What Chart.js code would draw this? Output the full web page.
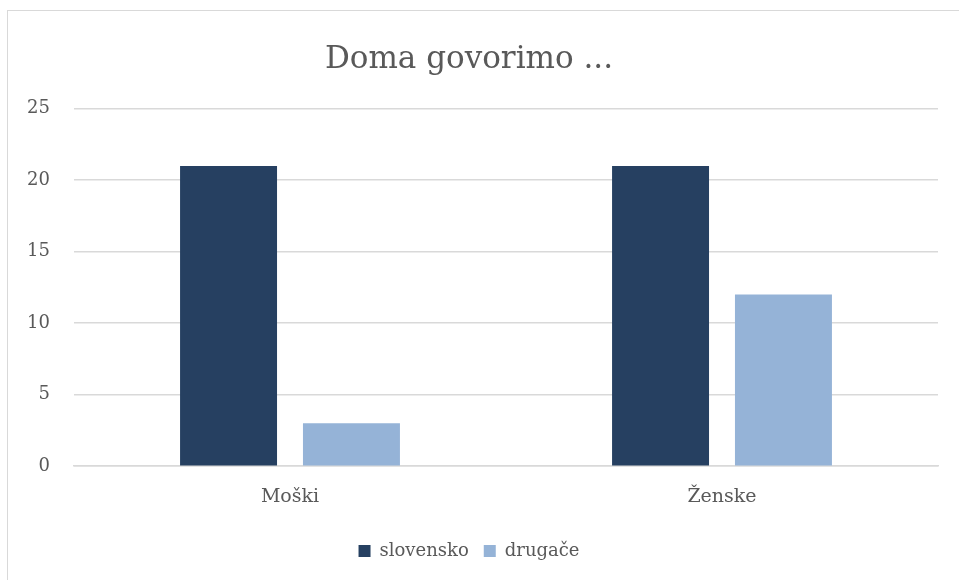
<!DOCTYPE html>
<html>
<head>
<meta charset="utf-8">
<script src="https://cdn.jsdelivr.net/npm/chart.js@4"></script>
<style>
    html, body { margin: 0; padding: 0; background: #fff; }
    #wrap { position: relative; width: 959px; height: 580px; overflow: hidden; }
    #frame {
        position: absolute; left: 7px; top: 10px;
        width: 1000px; height: 700px;
        border: 1px solid #d9d9d9;
    }
    #chartDoma { position: absolute; left: 0; top: 0; }
</style>
</head>
<body>
<div id="wrap">
    <div id="frame"></div>
    <canvas id="chartDoma" width="959" height="580"></canvas>
</div>
<script>
// Podatki
const kategorije = ['Moški', 'Ženske'];
const slovensko = [21, 21];
const drugace = [3, 12];
const serije = ['slovensko', 'drugače'];

const pisava = 'DejaVu Serif';
const barvaBesedila = '#595959';
const barvaMreze = '#d9d9d9';

document.addEventListener('DOMContentLoaded', function() {
    narisiGraf();
});

function narisiGraf() {
    const ctx = document.getElementById('chartDoma');
    if (!ctx) return;

    new Chart(ctx, {
        type: 'bar',
        data: {
            labels: kategorije,
            datasets: [
                {
                    label: serije[0],
                    data: slovensko,
                    backgroundColor: '#264061'
                },
                {
                    label: serije[1],
                    data: drugace,
                    backgroundColor: '#95b3d7'
                }
            ]
        },
        options: {
            responsive: false,
            animation: false,
            categoryPercentage: 0.569,
            barPercentage: 0.789,
            layout: {
                padding: { left: 0, right: 21, top: 0, bottom: 10 }
            },
            scales: {
                y: {
                    min: 0,
                    max: 25,
                    ticks: {
                        stepSize: 5,
                        color: barvaBesedila,
                        padding: 24,
                        font: { family: pisava, size: 18 }
                    },
                    grid: {
                        color: barvaMreze,
                        lineWidth: 1.5,
                        drawTicks: false
                    },
                    border: { display: false },
                    afterFit: function(s) { s.width = 74; }
                },
                x: {
                    ticks: {
                        color: barvaBesedila,
                        padding: 19,
                        font: { family: pisava, size: 19 }
                    },
                    grid: { display: false, drawTicks: false },
                    border: { color: barvaMreze, width: 1.5 }
                }
            },
            plugins: {
                title: {
                    display: true,
                    text: 'Doma govorimo ...',
                    color: barvaBesedila,
                    font: { family: pisava, size: 31, weight: 'normal' },
                    padding: { top: 41.5, bottom: 30 }
                },
                legend: {
                    position: 'bottom',
                    labels: {
                        color: barvaBesedila,
                        boxWidth: 12,
                        boxHeight: 12,
                        padding: 15,
                        font: { family: pisava, size: 18 }
                    }
                },
                tooltip: { enabled: false }
            }
        }
    });
}
</script>
</body>
</html>
